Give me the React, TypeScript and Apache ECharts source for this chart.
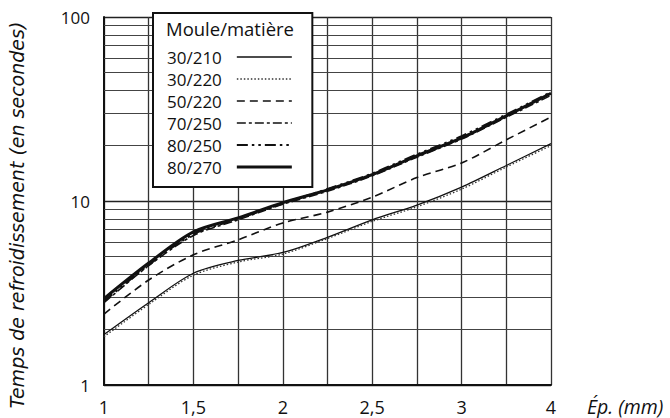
import React, { useEffect, useRef } from "react";
import * as echarts from "echarts";

const categories = ["1", "1,25", "1,5", "1,75", "2", "2,25", "2,5", "2,75", "3", "3,5", "4"];
const s30_210 = [1.88, 2.8, 4.05, 4.75, 5.25, 6.35, 7.9, 9.5, 11.9, 15.6, 20.5];
const s30_220 = [1.83, 2.74, 3.95, 4.66, 5.15, 6.25, 7.75, 9.3, 11.6, 15.3, 20.0];
const s50_220 = [2.43, 3.72, 5.1, 6.15, 7.6, 8.7, 10.5, 13.4, 16.1, 21.5, 28.6];
const s70_250 = [2.8, 4.45, 6.5, 7.9, 9.6, 11.3, 13.7, 17.3, 21.7, 28.5, 37.5];
const s80_250 = [2.85, 4.5, 6.6, 8.0, 9.7, 11.6, 14.1, 17.9, 22.5, 29.5, 39.0];
const s80_270 = [2.95, 4.6, 6.8, 8.1, 9.8, 11.5, 13.9, 17.6, 22.0, 29.0, 38.5];
const minorGridValues = [2, 3, 4, 5, 6, 7, 8, 9, 20, 30, 40, 50, 60, 70, 80, 90];
const seriesNames = ["30/210", "30/220", "50/220", "70/250", "80/250", "80/270"];

const FONT = "Open Sans";

export default function App() {
  const ref = useRef<HTMLDivElement>(null);
  useEffect(() => {
    const chart = echarts.init(ref.current!, null, { renderer: "svg" });
    const styles: Record<string, { width: number; type: any; color: string }> = {
      "30/210": { width: 1.3, type: "solid", color: "#111" },
      "30/220": { width: 1.3, type: [1.5, 2], color: "#333" },
      "50/220": { width: 1.6, type: [8, 5], color: "#111" },
      "70/250": { width: 1.6, type: [9, 3, 3, 3], color: "#111" },
      "80/250": { width: 2.2, type: [11, 4, 2.5, 4, 2.5, 4], color: "#111" },
      "80/270": { width: 3, type: "solid", color: "#111" },
    };
    const mk = (name: string, data: number[]) => ({
      name,
      type: "line",
      data,
      symbol: "none",
      smooth: 0.3,
      lineStyle: { ...styles[name] },
      itemStyle: { color: styles[name].color },
      z: 5,
    });
    chart.setOption({
      animation: false,
      backgroundColor: "#fff",
      grid: { left: 104, right: 119, top: 17, bottom: 33 },
      xAxis: {
        type: "category",
        data: categories,
        boundaryGap: false,
        axisLine: { show: true, lineStyle: { color: "#111", width: 2 } },
        axisTick: { show: false },
        axisLabel: {
          interval: (i: number) => i % 2 === 0,
          color: "#111",
          fontFamily: FONT,
          fontSize: 18,
          margin: 13,
        },
        splitLine: { show: true, interval: 0, lineStyle: { color: "#333", width: 1.3 } },
      },
      yAxis: {
        type: "log",
        logBase: 10,
        min: 1,
        max: 100,
        axisLine: { show: true, lineStyle: { color: "#111", width: 2 } },
        axisTick: { show: false },
        axisLabel: { color: "#111", fontFamily: FONT, fontSize: 17, margin: 14 },
        splitLine: { show: true, lineStyle: { color: "#222", width: 1.4 } },
      },
      legend: {
        orient: "vertical",
        left: 153,
        top: 13,
        align: "right",
        data: seriesNames.map((n) => ({
          name: n,
          lineStyle: { width: styles[n].width, type: styles[n].type, color: styles[n].color },
        })),
        itemWidth: 55,
        itemHeight: 12,
        itemGap: 4,
        padding: [35, 19, 11, 14],
        backgroundColor: "#fff",
        borderColor: "#111",
        borderWidth: 2,
        borderRadius: 0,
        itemStyle: { color: "rgba(0,0,0,0)", borderColor: "rgba(0,0,0,0)", borderWidth: 0 },
        textStyle: { color: "#111", fontFamily: FONT, fontSize: 17, lineHeight: 18, padding: [0, 10, 0, 0] },
        z: 10,
      },
      graphic: [
        {
          type: "text",
          left: 166,
          top: 19,
          z: 200,
          style: { text: "Moule/matière", fill: "#111", font: `18.5px "${FONT}"` },
        },
        {
          type: "text",
          left: 587,
          top: 396,
          style: { text: "Ép. (mm)", fill: "#111", font: `italic 19.5px "${FONT}"` },
        },
        {
          type: "text",
          x: 17,
          y: 215,
          rotation: Math.PI / 2,
          style: {
            text: "Temps de refroidissement (en secondes)",
            fill: "#111",
            font: `italic 19px "DejaVu Sans"`,
            align: "center",
            verticalAlign: "middle",
          },
        },
      ],
      series: [
        {
          name: "grid-minor",
          type: "line",
          data: [],
          markLine: {
            silent: true,
            symbol: "none",
            label: { show: false },
            lineStyle: { color: "#444", width: 1.1, type: "solid" },
            data: minorGridValues.map((v) => ({ yAxis: v })),
          },
          z: 1,
        },
        mk("30/210", s30_210),
        mk("30/220", s30_220),
        mk("50/220", s50_220),
        mk("70/250", s70_250),
        mk("80/250", s80_250),
        mk("80/270", s80_270),
      ],
    });
    return () => chart.dispose();
  }, []);
  return (
    <div
      ref={ref}
      style={{ position: "absolute", left: 0, top: 0, width: 670, height: 418 }}
    />
  );
}
